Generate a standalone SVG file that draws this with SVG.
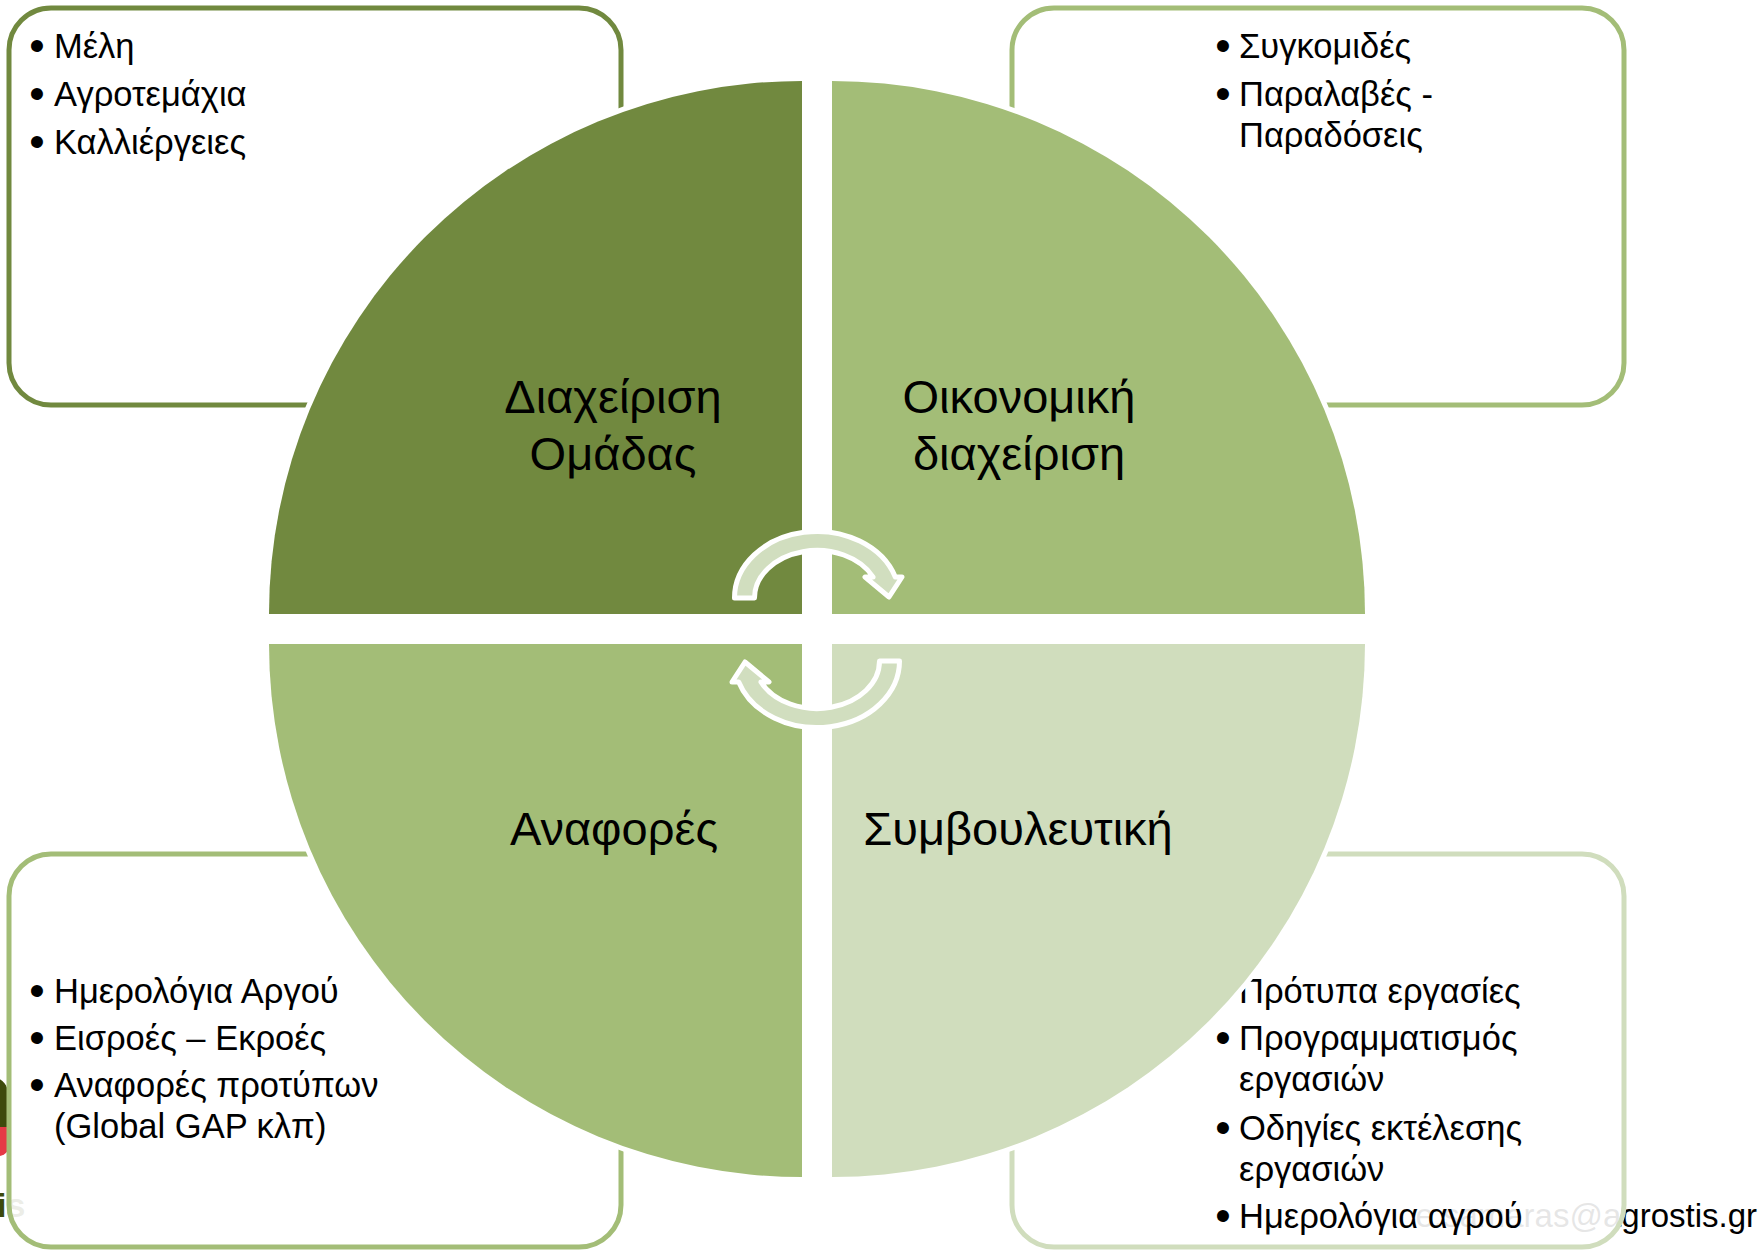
<svg xmlns="http://www.w3.org/2000/svg" width="1762" height="1251" viewBox="0 0 1762 1251">
<style>
text{font-family:'Liberation Sans',Arial,sans-serif;fill:#000}
.b{font-size:34.5px}
.bl{font-size:44px;text-anchor:middle}
.lab{font-size:47px;text-anchor:middle}
.box{fill:#fff;fill-opacity:0.9;stroke-width:5}
.q{stroke:#fff;stroke-width:10;paint-order:stroke}
.arr{fill:#D1DEBF;stroke:#fff;stroke-width:5;stroke-linejoin:round}
</style>
<rect width="1762" height="1251" fill="#fff"/>
<!-- background slide elements -->
<g id="slide-bg">
  <path d="M -10 1077 C 5 1077 9 1088 9 1100 L 9 1127 L -10 1127 Z" fill="#3D4A0C"/>
  <path d="M -10 1127 L 9 1127 L 9 1145 C 9 1152 5 1157 -10 1157 Z" fill="#E53946"/>
  <text x="-3" y="1217" style="font-size:34px;font-weight:bold;fill:#3D4A0C">is</text>
  <text x="1757" y="1227" style="font-size:33px;text-anchor:end">e.samaras@agrostis.gr</text>
</g>
<!-- text boxes -->
<g id="box-tl">
  <rect class="box" x="9" y="8" width="612" height="397" rx="42" stroke="#71893F"/>
  <text class="bl" x="37" y="61">•</text><text class="b" x="54" y="58">Μέλη</text>
  <text class="bl" x="37" y="109">•</text><text class="b" x="54" y="106">Αγροτεμάχια</text>
  <text class="bl" x="37" y="157">•</text><text class="b" x="54" y="154">Καλλιέργειες</text>
</g>
<g id="box-tr">
  <rect class="box" x="1012" y="8" width="612" height="397" rx="42" stroke="#A3BD77"/>
  <text class="bl" x="1223" y="61">•</text><text class="b" x="1239" y="58">Συγκομιδές</text>
  <text class="bl" x="1223" y="109">•</text><text class="b" x="1239" y="106">Παραλαβές -</text>
  <text class="b" x="1239" y="147">Παραδόσεις</text>
</g>
<g id="box-bl">
  <rect class="box" x="9" y="854" width="612" height="393" rx="42" stroke="#A3BD77"/>
  <text class="bl" x="37" y="1006">•</text><text class="b" x="54" y="1003">Ημερολόγια Αργού</text>
  <text class="bl" x="37" y="1053">•</text><text class="b" x="54" y="1050">Εισροές – Εκροές</text>
  <text class="bl" x="37" y="1100">•</text><text class="b" x="54" y="1097">Αναφορές προτύπων</text>
  <text class="b" x="54" y="1138">(Global GAP κλπ)</text>
</g>
<g id="box-br">
  <rect class="box" x="1012" y="854" width="612" height="393" rx="42" stroke="#D0DDBD"/>
  <text class="bl" x="1223" y="1006">•</text><text class="b" x="1239" y="1003">Πρότυπα εργασίες</text>
  <text class="bl" x="1223" y="1053">•</text><text class="b" x="1239" y="1050">Προγραμματισμός</text>
  <text class="b" x="1239" y="1091">εργασιών</text>
  <text class="bl" x="1223" y="1143">•</text><text class="b" x="1239" y="1140">Οδηγίες εκτέλεσης</text>
  <text class="b" x="1239" y="1181">εργασιών</text>
  <text class="bl" x="1223" y="1231">•</text><text class="b" x="1239" y="1228">Ημερολόγια αγρού</text>
</g>
<!-- quadrants -->
<g id="q-tl">
  <path class="q" d="M 802 614 L 269 614 A 533 533 0 0 1 802 81 Z" fill="#71893F"/>
  <text class="lab" x="613" y="413">Διαχείριση</text>
  <text class="lab" x="613" y="470">Ομάδας</text>
</g>
<g id="q-tr">
  <path class="q" d="M 832 614 L 832 81 A 533 533 0 0 1 1365 614 Z" fill="#A3BD77"/>
  <text class="lab" x="1019" y="413">Οικονομική</text>
  <text class="lab" x="1019" y="470">διαχείριση</text>
</g>
<g id="q-bl">
  <path class="q" d="M 802 644 L 802 1177 A 533 533 0 0 1 269 644 Z" fill="#A3BD77"/>
  <text class="lab" x="614" y="845">Αναφορές</text>
</g>
<g id="q-br">
  <path class="q" d="M 832 644 L 1365 644 A 533 533 0 0 1 832 1177 Z" fill="#D0DDBD"/>
  <text class="lab" x="1018" y="845">Συμβουλευτική</text>
</g>
<!-- connectors: cycle arrows -->
<g id="connectors">
  <path class="arr" d="M 734.5 598 A 82.5 66.5 0 0 1 895.3 577 L 902 577 L 889 597 L 865 577 L 873.1 577 A 62.5 47.5 0 0 0 754.5 598 Z"/>
  <path class="arr" transform="rotate(180 817 629.5)" d="M 734.5 598 A 82.5 66.5 0 0 1 895.3 577 L 902 577 L 889 597 L 865 577 L 873.1 577 A 62.5 47.5 0 0 0 754.5 598 Z"/>
</g>
</svg>
